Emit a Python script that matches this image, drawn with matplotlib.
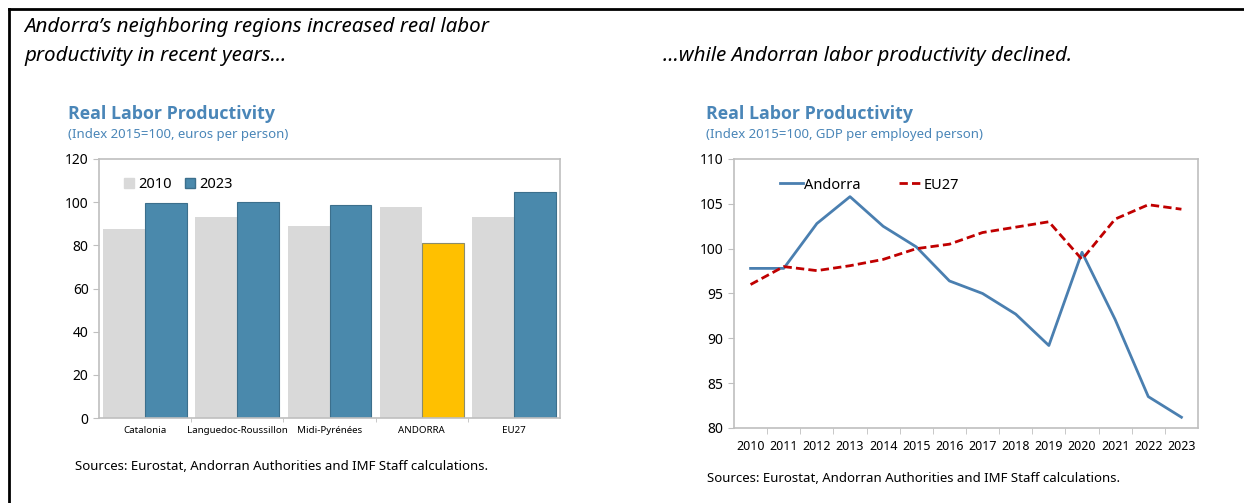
import matplotlib.pyplot as plt
from matplotlib.lines import Line2D
from matplotlib.patches import Patch

plt.rcParams['font.family'] = ['Noto Sans', 'DejaVu Sans']

# bar panel data
regions = ['Catalonia', 'Languedoc-Roussillon', 'Midi-Pyrénées', 'ANDORRA', 'EU27']
prod_2010 = [87.6, 93.2, 88.9, 97.9, 92.9]
prod_2023 = [99.4, 100.0, 98.8, 81.3, 104.7]

# line panel data
years = ['2010', '2011', '2012', '2013', '2014', '2015', '2016',
         '2017', '2018', '2019', '2020', '2021', '2022', '2023']
andorra = [97.8, 97.8, 102.8, 105.8, 102.5, 100.2, 96.4,
           95.0, 92.7, 89.2, 99.6, 92.1, 83.5, 81.2]
eu27 = [96.0, 98.0, 97.55, 98.1, 98.8, 100.0, 100.5,
        101.8, 102.4, 103.0, 98.8, 103.3, 104.9, 104.4]

grey = '#D9D9D9'
blue_bar = '#4A89AC'
gold = '#FFC000'
line_blue = '#4A7FB0'
red = '#C00000'
title_blue = '#4A86B8'
frame_grey = '#BFBFBF'

W, H = 1244, 503
fig = plt.figure(figsize=(W / 100, H / 100), dpi=100)


def box(x0, y0, x1, y1):
    # pixel box (top-left origin) -> figure fraction rect
    return [x0 / W, 1 - y1 / H, (x1 - x0) / W, (y1 - y0) / H]


def style_axes(ax):
    for s in ax.spines.values():
        s.set_color(frame_grey)
        s.set_linewidth(1.2)
    ax.tick_params(axis='y', colors=frame_grey, labelcolor='black',
                   labelsize=10, length=4)
    ax.tick_params(axis='x', colors=frame_grey, labelcolor='black', length=4)


# outer frame
fig.add_artist(Line2D([9 / W, 1], [1 - 9 / H, 1 - 9 / H], color='black', lw=2))
fig.add_artist(Line2D([9 / W, 9 / W], [0, 1 - 9 / H], color='black', lw=2))

# headlines
head = dict(fontsize=14.8, style='italic', va='center')
fig.text(24 / W, 1 - 27 / H, 'Andorra\u2019s neighboring regions increased real labor', **head)
fig.text(24 / W, 1 - 56 / H, 'productivity in recent years\u2026', **head)
fig.text(663 / W, 1 - 56 / H, '\u2026while Andorran labor productivity declined.', **head)

# panel titles
ttl = dict(fontsize=12.8, fontweight='bold', color=title_blue, va='center',
           family=['Open Sans', 'DejaVu Sans'])
sub = dict(fontsize=9.5, color=title_blue, va='center')
fig.text(68 / W, 1 - 114 / H, 'Real Labor Productivity', **ttl)
fig.text(68 / W, 1 - 134 / H, '(Index 2015=100, euros per person)', **sub)
fig.text(706 / W, 1 - 114 / H, 'Real Labor Productivity', **ttl)
fig.text(706 / W, 1 - 134 / H, '(Index 2015=100, GDP per employed person)', **sub)

# sources
src = 'Sources: Eurostat, Andorran Authorities and IMF Staff calculations.'
fig.text(75 / W, 1 - 466 / H, src, fontsize=9.5, va='center')
fig.text(707 / W, 1 - 479 / H, src, fontsize=9.5, va='center')

# ---- bar chart
ax1 = fig.add_axes(box(99, 159, 560, 418))
x = list(range(len(regions)))
w = 0.455
ax1.bar([i - w / 2 for i in x], prod_2010, width=w, color=grey, zorder=2)
colors_2023 = [gold if r == 'ANDORRA' else blue_bar for r in regions]
edges_2023 = ['#8C8C6A' if r == 'ANDORRA' else '#3C6F8C' for r in regions]
ax1.bar([i + w / 2 for i in x], prod_2023, width=w, color=colors_2023,
        edgecolor=edges_2023, linewidth=0.8, zorder=2)
ax1.set_xlim(-0.5, 4.5)
ax1.set_ylim(0, 120)
ax1.set_yticks(range(0, 121, 20))
ax1.set_xticks(x)
ax1.set_xticklabels(regions, fontsize=7)
ax1.set_xticks([i + 0.5 for i in x[:-1]], minor=True)
style_axes(ax1)
ax1.tick_params(axis='x', which='major', length=0, pad=6)
ax1.tick_params(axis='x', which='minor', colors=frame_grey, length=3)
ax1.legend(handles=[Patch(color=grey, label='2010'),
                    Patch(facecolor=blue_bar, edgecolor='#3C6F8C', label='2023')],
           loc='upper left', bbox_to_anchor=(0.025, 0.98), ncol=2, frameon=False,
           fontsize=10.5, handlelength=0.7, handleheight=0.7, handletextpad=0.3,
           columnspacing=0.9)

# ---- line chart
ax2 = fig.add_axes(box(734, 159, 1198, 428))
t = list(range(len(years)))
ax2.plot(t, andorra, color=line_blue, lw=2, label='Andorra')
ax2.plot(t, eu27, color=red, lw=2, ls=(0, (3, 1.5)), label='EU27')
ax2.set_xlim(-0.5, 13.5)
ax2.set_ylim(80, 110)
ax2.set_yticks(range(80, 111, 5))
ax2.set_xticks(t)
ax2.set_xticklabels(years, fontsize=9)
ax2.set_xticks([i + 0.5 for i in t[:-1]], minor=True)
style_axes(ax2)
ax2.tick_params(axis='x', which='major', length=0, pad=9)
ax2.tick_params(axis='x', which='minor', colors=frame_grey, length=4)
ax2.legend(loc='upper left', bbox_to_anchor=(0.07, 0.98), ncol=2, frameon=False,
           fontsize=10.5, handlelength=1.6, handletextpad=0.1, columnspacing=2.6)

fig.savefig('out.png', dpi=100)
